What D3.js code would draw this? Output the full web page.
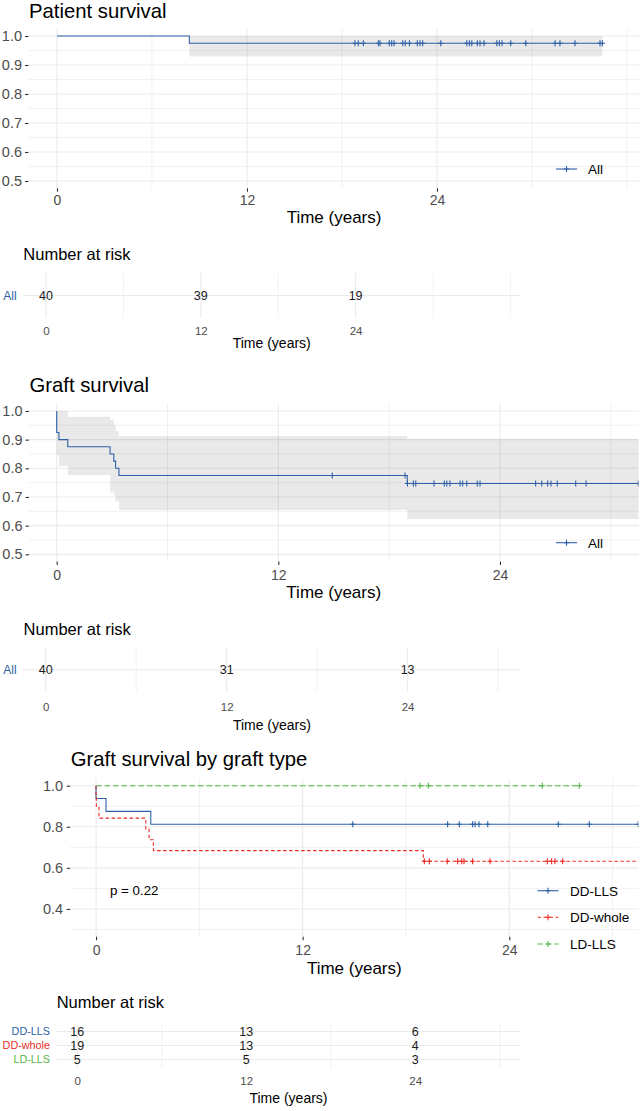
<!DOCTYPE html>
<html><head><meta charset="utf-8">
<script src="https://cdn.jsdelivr.net/npm/d3@7"></script>
<style>
body{margin:0;background:#fff}
svg{display:block;font-family:"Liberation Sans",Arial,Helvetica,sans-serif}
</style>
</head><body>
<svg id="c" width="641" height="1111"></svg>
<script>
// ---------------- DATA ----------------
const xBreaks = [0, 12, 24];
const timeLabel = "Time (years)";

// Patient survival (All)
const patTimes = [0, 8.36, 34.45];
const patSurv  = [1, 0.975, 0.975];
const patUpper = [1, 1, 1];
const patLower = [1, 0.929, 0.929];
const patCensor = [18.82,19.03,19.35,20.30,20.40,20.99,21.14,21.29,21.84,22.00,22.26,22.76,22.93,23.10,24.24,25.88,26.05,26.20,26.55,26.72,26.97,27.78,27.94,28.11,28.66,29.61,31.46,31.77,32.72,34.30,34.45];
const patRisk = [40, 39, 19];

// Graft survival (All)
const graftTimes = [0, 0, 0.12, 0.6, 2.89, 3.09, 3.19, 3.37, 18.98, 34.45];
const graftSurv  = [1, 0.925, 0.9, 0.875, 0.85, 0.825, 0.8, 0.775, 0.747, 0.747];
const graftUpper = [1, 1, 1, 0.98, 0.969, 0.951, 0.931, 0.913, 0.902, 0.902];
const graftLower = [1, 0.847, 0.808, 0.777, 0.718, 0.707, 0.684, 0.655, 0.623, 0.623];
const graftCensor = [14.92,18.86,18.99,19.31,19.44,20.43,20.99,21.12,21.29,21.84,21.98,22.20,22.77,22.92,25.93,26.26,26.58,26.76,27.10,28.10,28.66,31.49];
const graftRisk = [40, 31, 13];

// Graft survival by graft type
const typeNames = ["DD-LLS", "DD-whole", "LD-LLS"];
const ddllsTimes = [0, 0, 0.58, 3.18, 34.45];
const ddllsSurv  = [1, 0.9375, 0.875, 0.8125, 0.8125];
const ddllsCensor = [14.91,20.42,21.10,21.87,22.01,22.24,22.75,26.85,28.65,31.49];
const ddwTimes = [0, 0, 0.02, 0.17, 2.89, 3.08, 3.33, 19.01, 34.45];
const ddwSurv  = [1, 0.947, 0.895, 0.842, 0.789, 0.737, 0.684, 0.632, 0.632];
const ddwCensor = [19.07,19.36,20.40,21.00,21.24,21.37,21.87,22.88,26.21,26.46,26.65,27.10];
const ldTimes = [0, 28.07];
const ldSurv  = [1, 1];
const ldCensor = [18.81,19.30,25.92,28.07];
const ddllsRisk = [16, 13, 6];
const ddwRisk   = [19, 13, 4];
const ldRisk    = [5, 5, 3];
const pValueText = "p = 0.22";

// ---------------- STYLE ----------------
const BLUE = "#2E5FA8", RED = "#EA2B27", GREEN = "#55B84A";
const GRID = "#EBEBEB";
const svg = d3.select("#c");
let clipId = 0;

function survAt(times, surv, t) {
  let v = surv[0];
  for (let i = 0; i < times.length; i++) if (times[i] <= t) v = surv[i];
  return v;
}

function grid(g, x, y, xs, ys, left, right, top, bottom, widths) {
  xs.forEach(v => g.append("line").attr("x1", x(v.v)).attr("x2", x(v.v)).attr("y1", top).attr("y2", bottom)
    .attr("stroke", GRID).attr("stroke-width", v.major ? widths[0] : widths[1]));
  ys.forEach(v => g.append("line").attr("x1", left).attr("x2", right).attr("y1", y(v.v)).attr("y2", y(v.v))
    .attr("stroke", GRID).attr("stroke-width", v.major ? widths[0] : widths[1]));
}

function censorPath(px, py) {
  return `M${px-2.6},${py}H${px+2.6}M${px},${py-3}V${py+3}`;
}

function drawPanel(o) {
  const g = svg.append("g");
  const x = d3.scaleLinear().domain(o.xDomain).range([o.left, o.right]);
  const y = d3.scaleLinear().domain(o.yDomain).range([o.bottom, o.top]);
  const id = "clip" + (clipId++);
  svg.append("clipPath").attr("id", id).append("rect")
    .attr("x", o.left).attr("y", o.top).attr("width", o.right - o.left).attr("height", o.bottom - o.top);

  const xg = [];
  [-6, 0, 6, 12, 18, 24, 30, 36].forEach(v => { if (v > o.xDomain[0] && v < o.xDomain[1]) xg.push({v, major: xBreaks.includes(v)}); });
  const yg = o.yMajor.map(v => ({v, major: true})).concat(o.yMinor.map(v => ({v, major: false})));
  grid(g, x, y, xg, yg, o.left, o.right, o.top, o.bottom, [1.1, 0.7]);

  const body = g.append("g").attr("clip-path", `url(#${id})`);
  o.series.forEach(s => {
    if (s.upper) {
      const pts = s.times.map((t, i) => ({t, hi: s.upper[i], lo: s.lower[i]}));
      body.append("path").datum(pts)
        .attr("d", d3.area().x(d => x(d.t)).y0(d => y(d.lo)).y1(d => y(d.hi)).curve(d3.curveStepAfter))
        .attr("fill", "#000").attr("fill-opacity", 0.085);
    }
  });
  o.series.forEach(s => {
    const pts = s.times.map((t, i) => [t, s.surv[i]]);
    body.append("path").datum(pts)
      .attr("d", d3.line().x(d => x(d[0])).y(d => y(d[1])).curve(d3.curveStepAfter))
      .attr("fill", "none").attr("stroke", s.color).attr("stroke-width", 1.1)
      .attr("stroke-dasharray", s.dash || null);
    body.append("path")
      .attr("d", s.censor.map(t => censorPath(x(t), y(survAt(s.times, s.surv, t)))).join(""))
      .attr("fill", "none").attr("stroke", s.color).attr("stroke-width", 1.1);
  });

  // axes
  const ya = g.append("g").attr("transform", `translate(${o.left},0)`)
    .call(d3.axisLeft(y).tickValues(o.yMajor).tickFormat(d3.format(".1f")).tickSize(3.5).tickPadding(o.yPad));
  ya.select(".domain").remove();
  ya.selectAll(".tick line").attr("stroke", "#333").attr("stroke-width", 1.1);
  ya.selectAll("text").attr("font-size", 14.5).attr("fill", "#4D4D4D").attr("font-family", null);

  const xa = g.append("g").attr("transform", `translate(0,${o.bottom})`)
    .call(d3.axisBottom(x).tickValues(xBreaks).tickFormat(d3.format("d")).tickSize(3.5));
  xa.select(".domain").remove();
  xa.selectAll(".tick line").attr("stroke", "#333").attr("stroke-width", 1.1);
  xa.selectAll("text").attr("font-size", 14).attr("fill", "#4D4D4D").attr("font-family", null)
    .attr("dy", null).attr("y", o.tickBase - o.bottom);

  g.append("text").attr("x", (o.left + o.right) / 2).attr("y", o.axisTitleBase)
    .attr("text-anchor", "middle").attr("font-size", 17).attr("fill", "#000").text(timeLabel);
  g.append("text").attr("x", o.left + 0.5).attr("y", o.titleBase)
    .attr("font-size", 20.3).attr("fill", "#000").text(o.title);

  // legend
  o.series.forEach((s, i) => {
    const ly = o.legend.ys[i];
    g.append("line").attr("x1", o.legend.x1).attr("x2", o.legend.x2).attr("y1", ly).attr("y2", ly)
      .attr("stroke", s.color).attr("stroke-width", 1.1).attr("stroke-dasharray", s.dash || null);
    g.append("path").attr("d", censorPath((o.legend.x1 + o.legend.x2) / 2, ly))
      .attr("stroke", s.color).attr("stroke-width", 1.1).attr("fill", "none");
    g.append("text").attr("x", o.legend.tx).attr("y", ly).attr("dy", "0.36em")
      .attr("font-size", 13.5).attr("fill", "#000").text(s.name);
  });
  return {x, y, g};
}

function drawRisk(o) {
  const g = svg.append("g");
  const x = d3.scaleLinear().domain(o.xDomain).range([o.left, o.right]);
  const y = d3.scalePoint().domain(o.rows.map(r => r.name)).range([o.top, o.bottom]).padding(0.6);
  const xg = [];
  [-6, 0, 6, 12, 18, 24, 30, 36].forEach(v => { if (v > o.xDomain[0] && v < o.xDomain[1]) xg.push({v, major: xBreaks.includes(v)}); });
  xg.forEach(v => g.append("line").attr("x1", x(v.v)).attr("x2", x(v.v)).attr("y1", o.top).attr("y2", o.bottom)
    .attr("stroke", GRID).attr("stroke-width", v.major ? 1.1 : 0.7));
  o.rows.forEach(r => g.append("line").attr("x1", o.left).attr("x2", o.right).attr("y1", y(r.name)).attr("y2", y(r.name))
    .attr("stroke", GRID).attr("stroke-width", 1.1));

  o.rows.forEach(r => {
    g.append("text").attr("x", o.labelRight).attr("y", y(r.name)).attr("dy", "0.36em")
      .attr("text-anchor", "end").attr("font-size", o.labelSize).attr("fill", r.color).text(r.name);
    g.selectAll(null).data(r.values).enter().append("text")
      .attr("x", (d, i) => x(xBreaks[i])).attr("y", y(r.name)).attr("dy", "0.36em")
      .attr("text-anchor", "middle").attr("font-size", 12.5).attr("fill", "#1A1A1A").text(d => d);
  });

  const xa = g.append("g").attr("transform", `translate(0,${o.bottom})`)
    .call(d3.axisBottom(x).tickValues(xBreaks).tickFormat(d3.format("d")).tickSize(0));
  xa.select(".domain").remove();
  xa.selectAll("text").attr("font-size", 11.5).attr("fill", "#4D4D4D").attr("font-family", null)
    .attr("dy", null).attr("y", o.tickBase - o.bottom);

  g.append("text").attr("x", (o.left + o.right) / 2).attr("y", o.axisTitleBase)
    .attr("text-anchor", "middle").attr("font-size", 14).attr("fill", "#000").text(timeLabel);
  g.append("text").attr("x", o.left + 0.5).attr("y", o.titleBase)
    .attr("font-size", 16.5).attr("fill", "#000").text("Number at risk");
}

// ---------- Panel 1 ----------
drawPanel({
  left: 28.5, right: 639.6, top: 28.75, bottom: 188.25,
  xDomain: [-1.8, 36.8], yDomain: [0.475, 1.025],
  yMajor: [0.5, 0.6, 0.7, 0.8, 0.9, 1.0], yMinor: [0.55, 0.65, 0.75, 0.85, 0.95],
  yPad: 3, tickBase: 205, axisTitleBase: 223, titleBase: 17.5,
  title: "Patient survival",
  series: [{name: "All", times: patTimes, surv: patSurv, upper: patUpper, lower: patLower, censor: patCensor, color: BLUE}],
  legend: {x1: 556, x2: 577, tx: 588, ys: [169]}
});
drawRisk({
  left: 22.8, right: 520.7, top: 273, bottom: 318, xDomain: [-1.8, 36.8],
  labelRight: 16.7, labelSize: 12, tickBase: 335, axisTitleBase: 348, titleBase: 260,
  rows: [{name: "All", color: BLUE, values: patRisk}]
});

// ---------- Panel 2 ----------
drawPanel({
  left: 29, right: 638.5, top: 403.8, bottom: 561.5,
  xDomain: [-1.5, 31.5], yDomain: [0.475, 1.025],
  yMajor: [0.5, 0.6, 0.7, 0.8, 0.9, 1.0], yMinor: [0.55, 0.65, 0.75, 0.85, 0.95],
  yPad: 3, tickBase: 580, axisTitleBase: 598, titleBase: 392,
  title: "Graft survival",
  series: [{name: "All", times: graftTimes, surv: graftSurv, upper: graftUpper, lower: graftLower, censor: graftCensor, color: BLUE}],
  legend: {x1: 556, x2: 577, tx: 588, ys: [542.7]}
});
drawRisk({
  left: 23.1, right: 520.7, top: 648, bottom: 691.7, xDomain: [-1.5, 31.5],
  labelRight: 16.7, labelSize: 12, tickBase: 711.5, axisTitleBase: 730, titleBase: 635,
  rows: [{name: "All", color: BLUE, values: graftRisk}]
});

// ---------- Panel 3 ----------
const p3 = drawPanel({
  left: 70.2, right: 638.4, top: 778.5, bottom: 936.7,
  xDomain: [-1.5, 31.5], yDomain: [0.265, 1.035],
  yMajor: [0.4, 0.6, 0.8, 1.0], yMinor: [0.3, 0.5, 0.7, 0.9],
  yPad: 3.5, tickBase: 955, axisTitleBase: 974, titleBase: 766,
  title: "Graft survival by graft type",
  series: [
    {name: typeNames[0], times: ddllsTimes, surv: ddllsSurv, censor: ddllsCensor, color: BLUE},
    {name: typeNames[1], times: ddwTimes, surv: ddwSurv, censor: ddwCensor, color: RED, dash: "3.5,2.5"},
    {name: typeNames[2], times: ldTimes, surv: ldSurv, censor: ldCensor, color: GREEN, dash: "5.5,3"}
  ],
  legend: {x1: 537.5, x2: 558.5, tx: 570, ys: [890.7, 917.3, 944]}
});
p3.g.append("text").attr("x", 110).attr("y", 890).attr("dy", "0.36em")
  .attr("font-size", 13.3).attr("fill", "#000").text(pValueText);

drawRisk({
  left: 56.2, right: 520.8, top: 1023, bottom: 1068, xDomain: [-1.5, 31.5],
  labelRight: 50, labelSize: 10.8, tickBase: 1085, axisTitleBase: 1103, titleBase: 1008.3,
  rows: [
    {name: typeNames[0], color: BLUE, values: ddllsRisk},
    {name: typeNames[1], color: RED, values: ddwRisk},
    {name: typeNames[2], color: GREEN, values: ldRisk}
  ]
});
</script>
</body></html>
